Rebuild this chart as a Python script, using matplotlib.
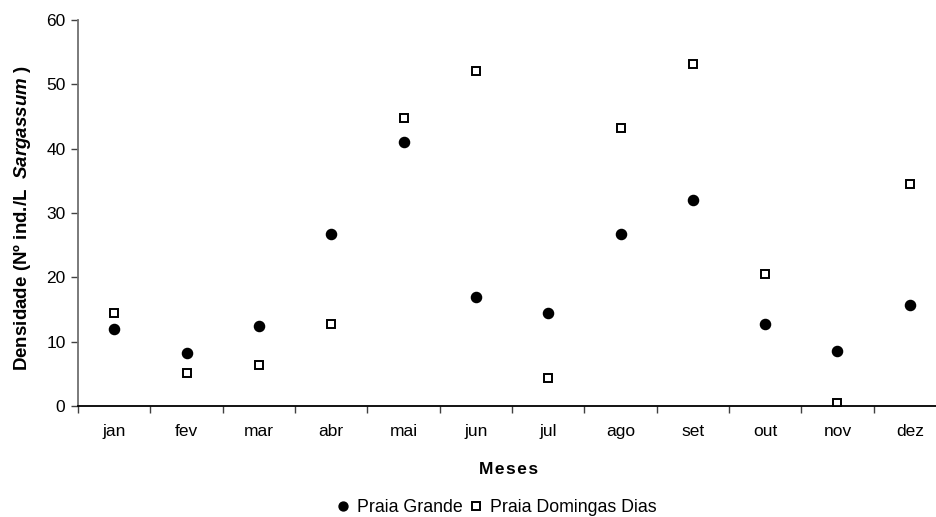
import numpy as np
import matplotlib
matplotlib.use("Agg")
import matplotlib.pyplot as plt

plt.rcParams["font.family"] = ["Liberation Sans", "DejaVu Sans"]
plt.rcParams["mathtext.fontset"] = "custom"
plt.rcParams["mathtext.bfit"] = "Liberation Sans:italic:bold"
plt.rcParams["mathtext.it"] = "Liberation Sans:italic"
plt.rcParams["mathtext.bf"] = "Liberation Sans:bold"
plt.rcParams["mathtext.rm"] = "Liberation Sans"

meses = ["jan", "fev", "mar", "abr", "mai", "jun", "jul", "ago", "set", "out", "nov", "dez"]
praia_grande = [12.0, 8.2, 12.5, 26.8, 41.0, 17.0, 14.4, 26.8, 32.0, 12.7, 8.5, 15.7]
praia_domingas = [14.4, 5.1, 6.4, 12.8, 44.8, 52.1, 4.3, 43.2, 53.2, 20.5, 0.4, 34.5]

fig = plt.figure(figsize=(9.36, 5.17), dpi=100)
# plot area runs a bit past the right edge, as in the original crop
ax = fig.add_axes([78 / 936, 1 - 406 / 517, 868 / 936, 386 / 517])

x = np.arange(len(meses))
ax.plot(x, praia_grande, "o", color="black", markersize=7.3, label="Praia Grande")
ax.plot(x, praia_domingas, "s", markerfacecolor="white", markeredgecolor="black",
        markeredgewidth=1.4, markersize=5.9, label="Praia Domingas Dias")

ax.set_xlim(-0.5, len(meses) - 0.5)
ax.set_ylim(0, 60)
ax.set_yticks([0, 10, 20, 30, 40, 50, 60])
ax.set_xticks(np.arange(len(meses) + 1) - 0.5)
ax.set_xticklabels([])
ax.set_xticks(x, minor=True)
ax.set_xticklabels(meses, minor=True)
ax.tick_params(axis="x", which="major", length=5, width=1, color="#404040")
ax.tick_params(axis="x", which="minor", length=0, pad=13, labelsize=12.5)
ax.tick_params(axis="y", length=5, width=1, color="#404040", labelsize=12.5, pad=4)

ax.spines["top"].set_visible(False)
ax.spines["right"].set_visible(False)
ax.spines["left"].set_color("#707070")
ax.spines["bottom"].set_color("black")
ax.spines["left"].set_linewidth(1.3)
ax.spines["bottom"].set_linewidth(1.3)

ax.set_ylabel(r"Densidade (Nº ind./L  $\mathbfit{Sargassum}$ )", fontsize=13.5, fontweight="bold")
ax.yaxis.set_label_coords((33 - 78) / 868, (406 - 218) / 386)
fig.text(509 / 936, 1 - 469 / 517, "M e s e s".replace(" ", "\u200a"), fontsize=12.5, fontweight="bold",
         ha="center", va="center")

fig.legend(loc="center", bbox_to_anchor=(496 / 936, 1 - 508 / 517), ncol=2, frameon=False,
           fontsize=12.8, handletextpad=0.4, columnspacing=0.34, handlelength=0.8, markerscale=0.88)

fig.savefig("out.png", dpi=100)
